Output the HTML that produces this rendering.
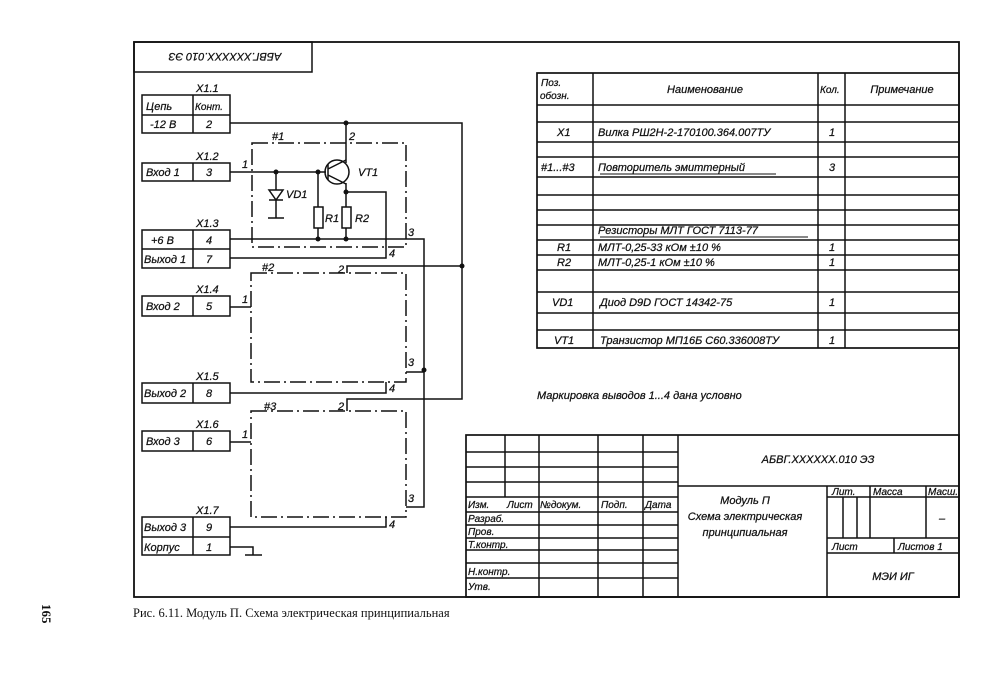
<!DOCTYPE html>
<html><head><meta charset="utf-8"><style>
html,body{margin:0;padding:0;background:#fff;}
svg{display:block;}
text{font-family:"Liberation Sans","DejaVu Sans",sans-serif;font-style:italic;fill:#111;stroke:#111;stroke-width:0.25;}
.s{font-size:11px;}
</style></head><body>
<svg width="1000" height="686" viewBox="0 0 1000 686" xmlns="http://www.w3.org/2000/svg">
<g stroke="#111" fill="none" stroke-width="1.5">
<rect x="134" y="42" width="825" height="555" stroke-width="1.8"/>
<rect x="134" y="42" width="178" height="30"/>
<rect x="537" y="73" width="422" height="275" stroke-width="1.7"/>
<line x1="593" y1="73" x2="593" y2="348"/>
<line x1="818" y1="73" x2="818" y2="348"/>
<line x1="845" y1="73" x2="845" y2="348"/>
<path d="M537 105H959M537 122H959M537 142H959M537 157H959M537 177H959M537 195H959M537 210H959M537 225H959M537 240H959M537 255H959M537 270H959M537 292H959M537 313H959M537 330H959"/>
<line x1="600" y1="174" x2="776" y2="174" stroke-width="1"/>
<line x1="600" y1="237" x2="808" y2="237" stroke-width="1"/>
<rect x="466" y="435" width="493" height="162" stroke-width="1.7"/>
<path d="M466 452H678M466 467H678M466 482H678M466 497H678M466 512H678M466 525H678M466 538H678M466 550H678M466 563H678M466 578H678"/>
<path d="M505 435V497M539 435V597M598 435V597M643 435V597M678 435V597"/>
<path d="M678 486H959M827 486V597M827 497H959M827 538H959M827 553H959M843 497V538M857 497V538M870 486V538M894 538V553M926 486V538"/>
<rect x="142" y="95" width="88" height="38"/><path d="M142 115H230M193 95V133"/>
<rect x="142" y="163" width="88" height="18"/><path d="M193 163V181"/>
<rect x="142" y="230" width="88" height="38"/><path d="M142 249H230M193 230V268"/>
<rect x="142" y="296" width="88" height="20"/><path d="M193 296V316"/>
<rect x="142" y="383" width="88" height="20"/><path d="M193 383V403"/>
<rect x="142" y="431" width="88" height="20"/><path d="M193 431V451"/>
<rect x="142" y="517" width="88" height="38"/><path d="M142 537H230M193 517V555"/>
<path d="M230 123H462V399H347V411"/>
<path d="M346 123V163"/>
<path d="M230 172H326"/>
<path d="M276 172V218M268 218H284"/>
<path d="M269 190H283L276 200Z" fill="#fff"/><path d="M269 200H283"/>
<path d="M318 172V207M318 228V239"/>
<rect x="314" y="207" width="9" height="21"/>
<path d="M346 183V207M346 228V239"/>
<rect x="342" y="207" width="9" height="21"/>
<circle cx="337" cy="172" r="12"/>
<path d="M328 164V180M328 169L346 160M328 175L346 184"/>
<path d="M346 192H386V258H230"/>
<path d="M230 239H424V507H406"/>
<path d="M406 372H424"/>
<path d="M462 266H347V273"/>
<path d="M230 307H251"/>
<path d="M386 382V393H230"/>
<path d="M230 442H251"/>
<path d="M386 517V527H230"/>
<path d="M230 547H253V555M245 555H262"/>
<g stroke-dasharray="16,4,2,4">
<rect x="252" y="143" width="154" height="104"/>
<rect x="251" y="273" width="155" height="109"/>
<rect x="251" y="411" width="155" height="106"/>
</g>
</g>
<g fill="#111">
<circle cx="346" cy="123" r="2.5"/><circle cx="276" cy="172" r="2.5"/><circle cx="318" cy="172" r="2.5"/>
<circle cx="346" cy="192" r="2.5"/><circle cx="318" cy="239" r="2.5"/><circle cx="346" cy="239" r="2.5"/>
<circle cx="462" cy="266" r="2.5"/><circle cx="424" cy="370" r="2.5"/>
</g>
<g class="s">
<text x="225" y="61" text-anchor="middle" transform="rotate(180 225 57)">АБВГ.XXXXXX.010 ЭЗ</text>
<text x="196" y="92">X1.1</text>
<text x="146" y="110">Цепь</text><text x="195" y="110" font-size="10">Конт.</text>
<text x="150" y="128">-12 В</text><text x="206" y="128">2</text>
<text x="196" y="160">X1.2</text>
<text x="146" y="176">Вход 1</text><text x="206" y="176">3</text>
<text x="196" y="227">X1.3</text>
<text x="151" y="244">+6 В</text><text x="206" y="244">4</text>
<text x="144" y="263">Выход 1</text><text x="206" y="263">7</text>
<text x="196" y="293">X1.4</text>
<text x="146" y="310">Вход 2</text><text x="206" y="310">5</text>
<text x="196" y="380">X1.5</text>
<text x="144" y="397">Выход 2</text><text x="206" y="397">8</text>
<text x="196" y="428">X1.6</text>
<text x="146" y="445">Вход 3</text><text x="206" y="445">6</text>
<text x="196" y="514">X1.7</text>
<text x="144" y="531">Выход 3</text><text x="206" y="531">9</text>
<text x="144" y="551">Корпус</text><text x="206" y="551">1</text>
<text x="272" y="140">#1</text><text x="349" y="140">2</text>
<text x="242" y="168">1</text><text x="358" y="176">VT1</text>
<text x="286" y="198">VD1</text><text x="325" y="222">R1</text><text x="355" y="222">R2</text>
<text x="408" y="236">3</text><text x="389" y="257">4</text>
<text x="262" y="271">#2</text><text x="338" y="273">2</text>
<text x="242" y="303">1</text><text x="408" y="366">3</text><text x="389" y="392">4</text>
<text x="264" y="410">#3</text><text x="338" y="410">2</text>
<text x="242" y="438">1</text><text x="408" y="502">3</text><text x="389" y="528">4</text>
<text x="541" y="86" font-size="10">Поз.</text><text x="540" y="99" font-size="10">обозн.</text>
<text x="705" y="93" text-anchor="middle">Наименование</text>
<text x="820" y="93" font-size="10">Кол.</text>
<text x="902" y="93" text-anchor="middle">Примечание</text>
<text x="557" y="136">X1</text><text x="598" y="136">Вилка РШ2Н-2-170100.364.007ТУ</text><text x="829" y="136">1</text>
<text x="541" y="171">#1...#3</text><text x="598" y="171">Повторитель эмиттерный</text><text x="829" y="171">3</text>
<text x="598" y="234">Резисторы МЛТ ГОСТ 7113-77</text>
<text x="557" y="251">R1</text><text x="598" y="251">МЛТ-0,25-33 кОм ±10 %</text><text x="829" y="251">1</text>
<text x="557" y="266">R2</text><text x="598" y="266">МЛТ-0,25-1 кОм ±10 %</text><text x="829" y="266">1</text>
<text x="552" y="306">VD1</text><text x="600" y="306">Диод D9D ГОСТ 14342-75</text><text x="829" y="306">1</text>
<text x="554" y="344">VT1</text><text x="600" y="344">Транзистор МП16Б С60.336008ТУ</text><text x="829" y="344">1</text>
<text x="537" y="399">Маркировка выводов 1...4 дана условно</text>
<text x="818" y="463" text-anchor="middle">АБВГ.XXXXXX.010 ЭЗ</text>
<text x="468" y="508" font-size="10">Изм.</text><text x="507" y="508" font-size="10">Лист</text><text x="540" y="508" font-size="10">№докум.</text><text x="601" y="508" font-size="10">Подп.</text><text x="645" y="508" font-size="10">Дата</text>
<text x="468" y="522" font-size="10">Разраб.</text><text x="468" y="535" font-size="10">Пров.</text><text x="468" y="548" font-size="10">Т.контр.</text>
<text x="468" y="575" font-size="10">Н.контр.</text><text x="468" y="590" font-size="10">Утв.</text>
<text x="745" y="504" text-anchor="middle">Модуль П</text>
<text x="745" y="520" text-anchor="middle">Схема электрическая</text>
<text x="745" y="536" text-anchor="middle">принципиальная</text>
<text x="832" y="495" font-size="10">Лит.</text><text x="873" y="495" font-size="10">Масса</text><text x="928" y="495" font-size="10">Масш.</text>
<text x="942" y="522" text-anchor="middle">–</text>
<text x="832" y="550" font-size="10">Лист</text><text x="898" y="550" font-size="10">Листов 1</text>
<text x="893" y="580" text-anchor="middle">МЭИ ИГ</text>
</g>
<text x="133" y="617" style="font-family:'Liberation Serif',serif;font-style:normal;font-size:12.5px;stroke-width:0">Рис. 6.11. Модуль П. Схема электрическая принципиальная</text>
<text x="36" y="610" transform="rotate(90 42 610)" style="font-family:'Liberation Serif',serif;font-style:normal;font-size:13px;font-weight:bold;stroke-width:0">165</text>
</svg>
</body></html>
